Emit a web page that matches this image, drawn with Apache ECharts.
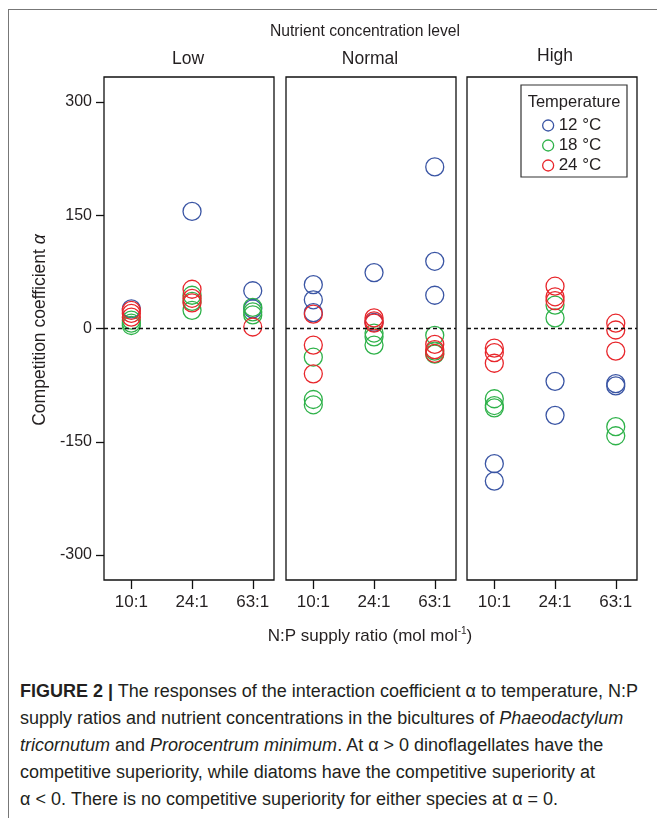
<!DOCTYPE html>
<html>
<head>
<meta charset="utf-8">
<script src="https://cdn.jsdelivr.net/npm/echarts@6/dist/echarts.min.js"></script>
<style>
  html, body { margin: 0; padding: 0; background: #fff; }
  #wrap { position: relative; width: 657px; height: 818px; overflow: hidden; }
  #frame { position: absolute; left: 8px; top: 9px; width: 700px; height: 900px; border: 1.5px solid #777; }
  #main { position: absolute; left: 0; top: 0; width: 657px; height: 660px; }
  #caption {
    position: absolute; left: 20px; top: 678px;
    font-family: "Liberation Sans", Arial, sans-serif; font-size: 18px; line-height: 27px;
    color: #231f20; white-space: nowrap;
  }
</style>
</head>
<body>
<div id="wrap">
  <div id="frame"></div>
  <div id="main"></div>
  <div id="caption">
    <b>FIGURE 2 |</b> The responses of the interaction coefficient α to temperature, N:P<br>
    supply ratios and nutrient concentrations in the bicultures of <i>Phaeodactylum</i><br>
    <i>tricornutum</i> and <i>Prorocentrum minimum</i>. At α &gt; 0 dinoflagellates have the<br>
    competitive superiority, while diatoms have the competitive superiority at<br>
    α &lt; 0. There is no competitive superiority for either species at α = 0.
  </div>
</div>
<script>
  // categories
  const ratios = ['10:1', '24:1', '63:1'];
  const levels = ['Low', 'Normal', 'High'];
  const temps = ['12 °C', '18 °C', '24 °C'];
  const colors = ['#3a55a4', '#2fb24a', '#e8262b'];
  const yTicks = [-300, -150, 0, 150, 300];

  // alpha values, one list per N:P ratio (10:1, 24:1, 63:1)
  const low12 = [[26], [155], [50, 26]];
  const low18 = [[11, 7, 4], [44, 36, 24], [28, 22, 18]];
  const low24 = [[24, 20, 15], [52, 40, 34], [2]];
  const normal12 = [[58, 38, 21], [74, 8], [214, 89, 44]];
  const normal18 = [[-38, -94, -101], [-6, -11, -22], [-9, -30, -34]];
  const normal24 = [[19, -22, -60], [14, 10, 7], [-21, -28, -33]];
  const high12 = [[-179, -202], [-70, -115], [-73, -76]];
  const high18 = [[-93, -102, -105], [31, 14], [-130, -142]];
  const high24 = [[-26, -32, -46], [56, 42, 37], [7, -2, -30]];

  const panels = [
    [low12, low18, low24],
    [normal12, normal18, normal24],
    [high12, high18, high24]
  ];

  const txt = '#231f20';
  const font = '"Liberation Sans", Arial, sans-serif';
  const panelLeft = [104, 286, 467];

  var myChart = echarts.init(document.getElementById('main'));

  function toPoints(byRatio) {
    const pts = [];
    byRatio.forEach((vals, i) => vals.forEach(v => pts.push([i + 1, v])));
    return pts;
  }

  const grids = [], xAxes = [], yAxes = [], series = [];
  panels.forEach((panel, g) => {
    grids.push({
      left: panelLeft[g], top: 77, width: 170, height: 503,
      show: true, borderColor: '#111', borderWidth: 1.3, backgroundColor: 'transparent'
    });
    xAxes.push({
      type: 'value', gridIndex: g, min: 0.55, max: 3.35,
      axisLine: { show: false, onZero: false },
      splitLine: { show: false },
      axisTick: { show: true, length: 9, customValues: [1, 2, 3], lineStyle: { color: '#111', width: 1.3 } },
      axisLabel: {
        customValues: [1, 2, 3], formatter: v => ratios[v - 1],
        fontSize: 17, color: txt, fontFamily: font, margin: 14
      }
    });
    yAxes.push({
      type: 'value', gridIndex: g, min: -333, max: 333,
      show: g === 0,
      axisLine: { show: false, onZero: false },
      splitLine: { show: false },
      axisTick: { show: true, length: 8, customValues: yTicks, lineStyle: { color: '#111', width: 1.3 } },
      axisLabel: { customValues: yTicks, fontSize: 16, color: txt, fontFamily: font, margin: 12 }
    });
    panel.forEach((byRatio, t) => {
      const s = {
        name: temps[t],
        type: 'scatter',
        xAxisIndex: g,
        yAxisIndex: g,
        symbol: 'circle',
        symbolSize: 18,
        itemStyle: { color: 'transparent', borderColor: colors[t], borderWidth: 1.3, opacity: 1 },
        emphasis: { disabled: true },
        data: toPoints(byRatio)
      };
      if (t === 0) {
        s.markLine = {
          silent: true, symbol: 'none', label: { show: false },
          lineStyle: { color: '#111', type: [4, 3], width: 1.3 },
          data: [{ yAxis: 0 }]
        };
      }
      series.push(s);
    });
  });

  const option = {
    animation: false,
    grid: grids,
    xAxis: xAxes,
    yAxis: yAxes,
    legend: {
      orient: 'vertical', left: 537, top: 112,
      itemWidth: 11, itemHeight: 11, itemGap: 3, itemTextGap: 5,
      textStyle: { fontSize: 17, lineHeight: 16, color: txt, fontFamily: font },
      data: temps.map((name, t) => ({
        name: name, icon: 'circle',
        itemStyle: { color: 'transparent', borderColor: colors[t], borderWidth: 1.3 }
      }))
    },
    graphic: [
      { type: 'text', x: 365, y: 32, style: { text: 'Nutrient concentration level', fontSize: 15.7, fontFamily: font, fill: txt, align: 'center', verticalAlign: 'middle' } },
      { type: 'text', x: 188, y: 59, style: { text: levels[0], fontSize: 17.5, fontFamily: font, fill: txt, align: 'center', verticalAlign: 'middle' } },
      { type: 'text', x: 370, y: 59, style: { text: levels[1], fontSize: 17.5, fontFamily: font, fill: txt, align: 'center', verticalAlign: 'middle' } },
      { type: 'text', x: 555, y: 56, style: { text: levels[2], fontSize: 17.5, fontFamily: font, fill: txt, align: 'center', verticalAlign: 'middle' } },
      {
        type: 'text', x: 40, y: 330, rotation: Math.PI / 2,
        style: {
          text: 'Competition coefficient {i|α}', fontSize: 17.5, fontFamily: font, fill: txt,
          align: 'center', verticalAlign: 'middle',
          rich: { i: { fontStyle: 'italic', fontSize: 17.5, fontFamily: font, fill: txt } }
        }
      },
      {
        type: 'text', x: 370, y: 636,
        style: {
          text: 'N:P supply ratio (mol mol{s|-1})', fontSize: 17, fontFamily: font, fill: txt,
          align: 'center', verticalAlign: 'middle',
          rich: { s: { fontSize: 10, fontFamily: font, fill: txt, padding: [0, 0, 9, 0] } }
        }
      },
      { type: 'rect', shape: { x: 521, y: 85, width: 106, height: 92 }, style: { fill: 'none', stroke: '#333', lineWidth: 1.2 } },
      { type: 'text', x: 574, y: 102, style: { text: 'Temperature', fontSize: 16.5, fontFamily: font, fill: txt, align: 'center', verticalAlign: 'middle' } }
    ],
    series: series
  };

  option && myChart.setOption(option);
</script>
</body>
</html>
